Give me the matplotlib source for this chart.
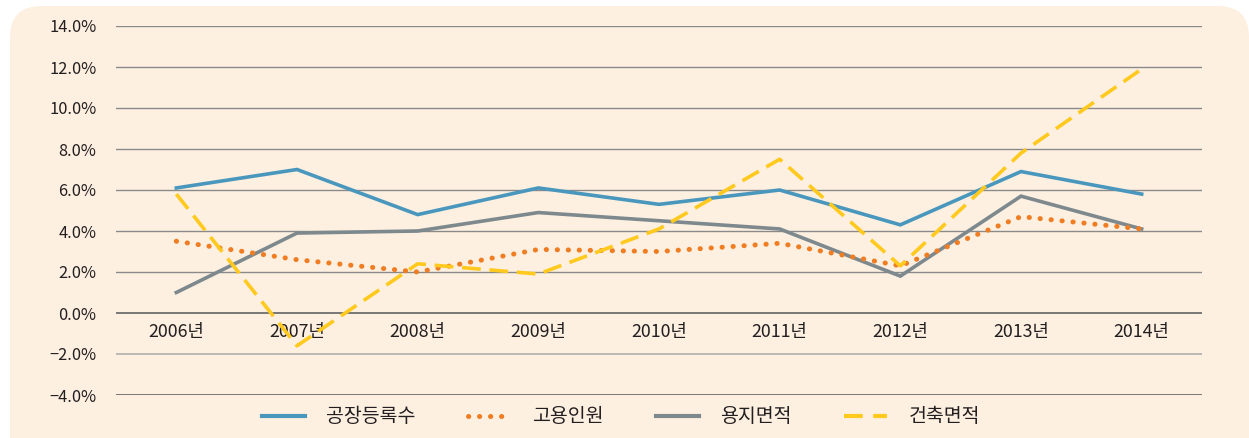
import matplotlib
matplotlib.use("Agg")
import matplotlib.pyplot as plt
from matplotlib.patches import FancyBboxPatch
from matplotlib.lines import Line2D

plt.rcParams['font.family'] = ['Noto Sans CJK KR', 'DejaVu Sans']

# ---- data (연도별 증가율, %) ----
years = ["2006년", "2007년", "2008년", "2009년", "2010년", "2011년", "2012년", "2013년", "2014년"]
factory = [6.1, 7.0, 4.8, 6.1, 5.3, 6.0, 4.3, 6.9, 5.8]      # 공장등록수
employ = [3.5, 2.6, 2.0, 3.1, 3.0, 3.4, 2.3, 4.7, 4.1]       # 고용인원
land = [1.0, 3.9, 4.0, 4.9, 4.5, 4.1, 1.8, 5.7, 4.1]         # 용지면적
building = [5.8, -1.6, 2.4, 1.9, 4.1, 7.5, 2.3, 7.8, 11.9]   # 건축면적
yticks = [-4, -2, 0, 2, 4, 6, 8, 10, 12, 14]

BG = "#FDF0E1"
C_BLUE = "#4A97BE"
C_ORANGE = "#F07D22"
C_GRAY = "#7E898E"
C_YELLOW = "#FFC91E"
TXT = "#231F20"

DOTS = (0, (0.05, 2.15))
DASH = (0, (5.2, 2.4))

W, H = 1249, 438
fig = plt.figure(figsize=(W / 100, H / 100), dpi=100, facecolor="white")

# rounded beige panel
panel = FancyBboxPatch((10 / W, -30 / H), (W - 10) / W, (H + 24) / H,
                       boxstyle="round,pad=0,rounding_size=0.025",
                       transform=fig.transFigure, facecolor=BG, edgecolor="none",
                       mutation_aspect=W / H, zorder=-10)
fig.patches.append(panel)

ax = fig.add_axes([116 / W, 1 - 395 / H, (1202 - 116) / W, (395 - 26) / H])
ax.set_zorder(1)
ax.set_facecolor("none")
x = list(range(len(years)))

# gridlines
for t in yticks:
    if t in (0, -4):
        ax.axhline(t, color="#6E6E6E", lw=1.3, zorder=1)
    elif t == -2:
        ax.axhline(t, color="#A8A8A8", lw=1.1, zorder=1)
    else:
        ax.axhline(t, color="#8A8A8A", lw=1.0, zorder=1)

ax.plot(x, factory, color=C_BLUE, lw=2.6, solid_joinstyle="miter", zorder=3)
ax.plot(x, employ, color=C_ORANGE, lw=3.6, linestyle=DOTS, dash_capstyle="round", zorder=4)
ax.plot(x, land, color=C_GRAY, lw=2.6, solid_joinstyle="miter", zorder=3)
ax.plot(x, building, color=C_YELLOW, lw=2.6, linestyle=DASH, dash_capstyle="butt", zorder=5)

ax.set_xlim(-0.5, len(years) - 0.5)
ax.set_ylim(-4, 14)
ax.set_yticks(yticks)
ax.set_yticklabels([f"{t:.1f}%".replace("-", "\u2212") for t in yticks])
ax.set_xticks([])
for s in ax.spines.values():
    s.set_visible(False)
ax.tick_params(axis="y", length=0, pad=14, labelsize=11.8, labelcolor=TXT)

# category labels just below the zero line
for i, yr in enumerate(years):
    ax.text(i, -0.95, yr, ha="center", va="center", fontsize=12.8, color=TXT)

handles = [
    Line2D([], [], color=C_BLUE, lw=3),
    Line2D([], [], color=C_ORANGE, lw=3.6, linestyle=DOTS, dash_capstyle="round"),
    Line2D([], [], color=C_GRAY, lw=3),
    Line2D([], [], color=C_YELLOW, lw=3, linestyle=(0, (4.5, 2.5)), dash_capstyle="butt"),
]
fig.legend(handles, ["공장등록수", "고용인원", "용지면적", "건축면적"],
           loc="center", bbox_to_anchor=(621 / W, 1 - 417 / H), ncol=4,
           frameon=False, handlelength=2.2, handletextpad=1.1,
           columnspacing=2.7, labelcolor=TXT, prop={"size": 14})

fig.savefig("out.png", dpi=100, facecolor="white")
